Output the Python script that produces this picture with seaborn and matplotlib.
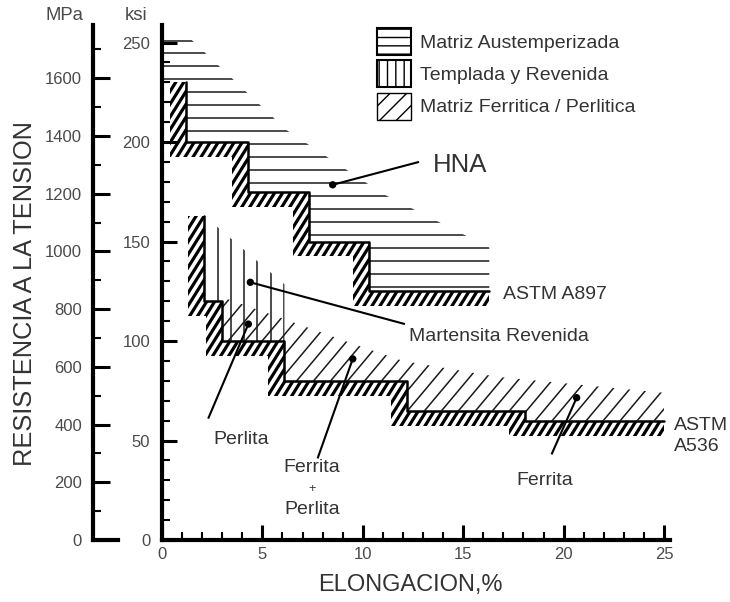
import numpy as np
import pandas as pd
import matplotlib
matplotlib.use("Agg")
import matplotlib.pyplot as plt
import matplotlib.transforms as mtransforms
from matplotlib.patches import Polygon, Patch
from matplotlib.collections import LineCollection
from matplotlib.ticker import MultipleLocator
import seaborn as sns

# ---------------- data ----------------
# ASTM A897 (HNA / ADI) minimum-property staircase: elongation % and ksi
hna_elong = [1.2, 4.3, 7.3, 10.3, 16.3]
hna_ksi = [230, 200, 175, 150, 125]
# ASTM A536 staircase
a536_elong = [2.1, 3.0, 6.1, 12.2, 18.1, 25.0]
a536_ksi = [163, 120, 100, 80, 65, 60]
# upper/right limits of the three hatched property fields
aus_edge_elong = [1.4, 6.2, 11.0, 16.3]
aus_edge_ksi = [252, 206, 174, 147]
qt_edge_elong = [2.1, 6.1]
qt_edge_ksi = [163, 128.5]
fer_edge_elong = [3.0, 6.1, 9.4, 12.0, 16.7, 25.0]
fer_edge_ksi = [122, 111, 99, 90, 82, 74]

# pointer annotations: dot position and end of leader line
ann_labels = ["HNA", "Martensita Revenida", "Perlita", "Ferrita + Perlita", "Ferrita"]
ann_dot_elong = [8.5, 4.4, 4.3, 9.5, 20.65]
ann_dot_ksi = [178.5, 129.5, 108.5, 91, 71.5]
ann_end_elong = [12.8, 12.1, 2.3, 7.75, 19.4]
ann_end_ksi = [190, 108.5, 61, 41, 43]

legend_labels = ["Matriz Austemperizada", "Templada y Revenida", "Matriz Ferritica / Perlitica"]

x_ticks = [0, 5, 10, 15, 20, 25]
ksi_ticks = [0, 50, 100, 150, 200, 250]
mpa_ticks = [0, 200, 400, 600, 800, 1000, 1200, 1400, 1600]
KSI_TO_MPA = 6.894757

# ---------------- style ----------------
sns.set_theme(style="white")
plt.rcParams["font.family"] = ["Liberation Sans", "DejaVu Sans"]
plt.rcParams["hatch.linewidth"] = 1.0
TXT = "#333333"
TICK = "#4a4a4a"

W_PX, H_PX = 730, 602
fig = plt.figure(figsize=(W_PX / 100, H_PX / 100), dpi=100)
L, R, B, T = 162, 670, 540, 25
ax = fig.add_axes([L / W_PX, 1 - B / H_PX, (R - L) / W_PX, (B - T) / H_PX])
ax.set_xlim(0, 25.3)
ax.set_ylim(0, 258.8)
ax.patch.set_alpha(0)


def staircase(xs, ys):
    pts = [(xs[0], ys[0])]
    for i in range(len(ys) - 1):
        pts.append((xs[i], ys[i + 1]))
        pts.append((xs[i + 1], ys[i + 1]))
    return pts


def band_poly(xs, ys, w, h):
    top = staircase(xs, ys)
    off = [(xs[0] - w, ys[0])]
    n = len(xs)
    for i in range(n - 1):
        off.append((xs[i] - w, ys[i + 1] - h))
        off.append(((xs[i + 1] - w) if i + 1 < n - 1 else xs[n - 1], ys[i + 1] - h))
    return top + off[::-1]


def clip_patch(verts):
    p = Polygon(verts, closed=True, facecolor="none", edgecolor="none")
    ax.add_patch(p)
    return p


def diag_hatch(patch, spacing_px, angle_deg, lw, color="black", zorder=2):
    t = np.tan(np.radians(angle_deg))
    dx = H_PX / t
    cs = np.arange(-dx - spacing_px, W_PX + spacing_px, spacing_px)
    segs = [[(c, -5), (c + dx + 5 / t, H_PX)] for c in cs]
    lc = LineCollection(segs, colors=color, linewidths=lw,
                        transform=mtransforms.IdentityTransform(), zorder=zorder,
                        capstyle="butt")
    ax.add_collection(lc, autolim=False)
    lc.set_clip_path(patch)


hna_step = staircase(hna_elong, hna_ksi)
a536_step = staircase(a536_elong, a536_ksi)

# austempered matrix field (horizontal lines)
aus_verts = [(0, aus_edge_ksi[0])] + list(zip(aus_edge_elong, aus_edge_ksi)) + hna_step[::-1] + [(0, hna_ksi[0])]
aus_patch = clip_patch(aus_verts)
aus_levels = np.arange(251, 125, -6.52)
hl = ax.hlines(aus_levels, 0, 17, colors="#1a1a1a", linewidth=1.1, zorder=2)
hl.set_clip_path(aus_patch)

# quenched & tempered field (vertical lines)
qt_verts = list(zip(qt_edge_elong, qt_edge_ksi)) + a536_step[:5][::-1][:-1]
qt_patch = clip_patch(qt_verts)
qt_x = np.arange(2.79, 6.15, 0.655)
vl = ax.vlines(qt_x, 95, 170, colors="#1a1a1a", linewidth=1.1, zorder=2)
vl.set_clip_path(qt_patch)

# ferritic / pearlitic field (diagonal lines)
fer_verts = list(zip(fer_edge_elong, fer_edge_ksi)) + a536_step[::-1][:-2]
fer_patch = clip_patch(fer_verts)
diag_hatch(fer_patch, 17, 50, 1.1, color="#1a1a1a", zorder=2)

# heavy hatched bands along the specification staircases
for xs, ys in [(hna_elong, hna_ksi), (a536_elong, a536_ksi)]:
    bp = clip_patch(band_poly(xs, ys, 0.8, 7.5))
    diag_hatch(bp, 8.0, 58, 2.3, color="black", zorder=3)

# specification outlines via seaborn
rows = []
for name, pts in [("A897", hna_step), ("A536", a536_step)]:
    for k, (x, y) in enumerate(pts):
        rows.append({"spec": name, "order": k, "elong": x, "ksi": y})
steps_df = pd.DataFrame(rows)
sns.lineplot(data=steps_df, x="elong", y="ksi", units="spec", estimator=None, sort=False,
             color="black", linewidth=1.8, ax=ax, zorder=4)

# leader lines + dots
for i in range(len(ann_labels)):
    ax.plot([ann_dot_elong[i], ann_end_elong[i]], [ann_dot_ksi[i], ann_end_ksi[i]],
            color="black", lw=1.5, zorder=5, solid_capstyle="butt")
dots_df = pd.DataFrame({"elong": ann_dot_elong, "ksi": ann_dot_ksi})
sns.scatterplot(data=dots_df, x="elong", y="ksi", color="black", s=28, edgecolor="none", ax=ax, zorder=6)

# annotation texts
ax.text(13.5, 188.5, ann_labels[0], fontsize=18.5, color=TXT, ha="left", va="center")
ax.text(12.3, 102.5, ann_labels[1], fontsize=14, color=TXT, ha="left", va="center")
ax.text(3.95, 50.3, ann_labels[2], fontsize=14, color=TXT, ha="center", va="center")
fp = ann_labels[3].split(" + ")
ax.text(7.46, 36.2, fp[0], fontsize=14, color=TXT, ha="center", va="center")
ax.text(7.46, 25.6, "+", fontsize=9, color=TXT, ha="center", va="center")
ax.text(7.46, 15.1, fp[1], fontsize=14, color=TXT, ha="center", va="center")
ax.text(19.05, 30, ann_labels[4], fontsize=14, color=TXT, ha="center", va="center")
ax.text(16.97, 123.6, "ASTM A897", fontsize=14, color=TXT, ha="left", va="center")
ax.text(25.52, 57.5, "ASTM", fontsize=14, color=TXT, ha="left", va="center", clip_on=False)
ax.text(25.52, 47.0, "A536", fontsize=14, color=TXT, ha="left", va="center", clip_on=False)

# axes styling (ksi + elongation)
for s in ["top", "right"]:
    ax.spines[s].set_visible(False)
for s in ["left", "bottom"]:
    ax.spines[s].set_linewidth(3.0)
    ax.spines[s].set_color("black")
ax.set_xticks(x_ticks)
ax.set_yticks(ksi_ticks)
ax.xaxis.set_minor_locator(MultipleLocator(1))
ax.yaxis.set_minor_locator(MultipleLocator(10))
ax.tick_params(axis="both", which="both", left=True, bottom=True, top=False, right=False)
ax.tick_params(axis="both", which="major", direction="in", length=11, width=2.2,
               color="black", labelsize=12, labelcolor=TICK)
ax.tick_params(axis="both", which="minor", direction="in", length=6, width=1.5, color="black")
ax.tick_params(axis="y", which="major", pad=8.5)
ax.tick_params(axis="x", which="major", pad=5)
ax.set_xlabel("")
ax.set_ylabel("")

# MPa axis
ax2 = fig.add_axes([93 / W_PX, 1 - B / H_PX, 25 / W_PX, (B - T) / H_PX])
ax2.set_ylim(0, 258.8 * KSI_TO_MPA)
ax2.set_xlim(0, 1)
ax2.patch.set_alpha(0)
ax2.set_xticks([])
ax2.set_yticks(mpa_ticks)
ax2.yaxis.set_minor_locator(MultipleLocator(100))
for s in ["top", "right"]:
    ax2.spines[s].set_visible(False)
for s in ["left", "bottom"]:
    ax2.spines[s].set_linewidth(3.0)
    ax2.spines[s].set_color("black")
ax2.tick_params(axis="y", which="both", left=True, right=False)
ax2.tick_params(axis="y", which="major", direction="in", length=12, width=2.2,
                color="black", labelsize=12, labelcolor=TICK, pad=8)
ax2.tick_params(axis="y", which="minor", direction="in", length=6, width=1.5, color="black")

# axis titles
fig.text(64 / W_PX, 1 - 15 / H_PX, "MPa", fontsize=13.3, color=TICK, ha="center", va="center")
fig.text(136 / W_PX, 1 - 15 / H_PX, "ksi", fontsize=13.3, color=TICK, ha="center", va="center")
fig.text(25 / W_PX, 1 - 294 / H_PX, "RESISTENCIA A LA TENSION", fontsize=18.3, color=TXT,
         rotation=90, ha="center", va="center")
fig.text(410 / W_PX, 1 - 585 / H_PX, "ELONGACION,%", fontsize=17, color=TXT, ha="center", va="center")

# legend
handles = [Patch(facecolor="white", edgecolor="black", hatch="--", linewidth=1.5),
           Patch(facecolor="white", edgecolor="black", hatch="||", linewidth=1.5),
           Patch(facecolor="white", edgecolor="black", hatch="//", linewidth=1.0)]
leg = ax.legend(handles, legend_labels, loc="upper left",
                bbox_to_anchor=(377 / W_PX, 1 - 28 / H_PX), bbox_transform=fig.transFigure,
                frameon=False, fontsize=14, handlelength=1.75, handleheight=1.75,
                handletextpad=0.45, labelspacing=0.28, borderpad=0, borderaxespad=0)
for t in leg.get_texts():
    t.set_color(TXT)

fig.savefig("out.png", dpi=100)
